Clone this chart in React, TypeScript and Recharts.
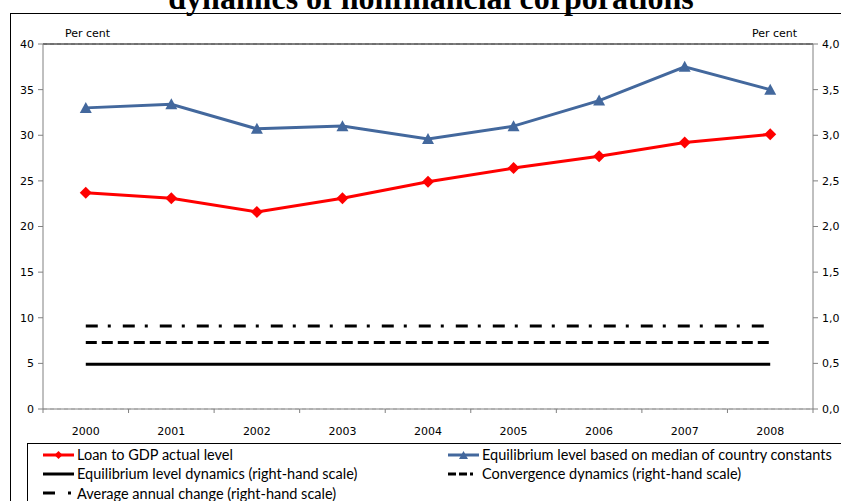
import { ComposedChart, Line, XAxis, YAxis, CartesianGrid, ReferenceLine } from "recharts";

const years = ["2000", "2001", "2002", "2003", "2004", "2005", "2006", "2007", "2008"];
const loanToGdp = [23.7, 23.1, 21.6, 23.1, 24.9, 26.4, 27.7, 29.2, 30.1];
const equilibriumMedian = [33.0, 33.4, 30.7, 31.0, 29.6, 31.0, 33.8, 37.5, 35.0];
const equilibriumDynamics = [0.49, 0.49, 0.49, 0.49, 0.49, 0.49, 0.49, 0.49, 0.49];
const convergenceDynamics = [0.73, 0.73, 0.73, 0.73, 0.73, 0.73, 0.73, 0.73, 0.73];
const averageAnnualChange = [0.91, 0.91, 0.91, 0.91, 0.91, 0.91, 0.91, 0.91, 0.91];
const leftTicks = [0, 5, 10, 15, 20, 25, 30, 35, 40];
const rightTicks = [0, 0.5, 1, 1.5, 2, 2.5, 3, 3.5, 4];

const data = years.map((year, i) => ({
  year,
  loan: loanToGdp[i],
  median: equilibriumMedian[i],
  dyn: equilibriumDynamics[i],
  conv: convergenceDynamics[i],
  avg: averageAnnualChange[i],
}));

const RED = "#ff0000";
const BLUE = "#43689d";
const BAND = 770 / 9;
const axisFont = { fontFamily: "DejaVu Sans", fontSize: 11, fill: "#000" };

const Diamond = ({ cx, cy }: any) =>
  cx == null ? null : <path d={`M${cx},${cy - 6}L${cx + 6},${cy}L${cx},${cy + 6}L${cx - 6},${cy}Z`} fill={RED} />;

const Triangle = ({ cx, cy }: any) =>
  cx == null ? null : <path d={`M${cx},${cy - 6}L${cx + 6},${cy + 5}L${cx - 6},${cy + 5}Z`} fill={BLUE} />;

const YearTick = ({ x, y, payload, index }: any) => (
  <g>
    <line x1={x - BAND / 2} y1={y - 8} x2={x - BAND / 2} y2={y - 4} stroke="#808080" />
    {index === years.length - 1 && (
      <line x1={x + BAND / 2} y1={y - 8} x2={x + BAND / 2} y2={y - 4} stroke="#808080" />
    )}
    <text x={x} y={y + 18} textAnchor="middle" {...axisFont}>
      {payload.value}
    </text>
  </g>
);

function LegendIcon({ kind }: { kind: string }) {
  return (
    <svg width={31} height={10} style={{ marginRight: 3, flex: "none" }}>
      {kind === "loan" && (
        <>
          <line x1={0} y1={5} x2={31} y2={5} stroke={RED} strokeWidth={3} />
          <path d="M15.5,1L19.5,5L15.5,9L11.5,5Z" fill={RED} />
        </>
      )}
      {kind === "median" && (
        <>
          <line x1={0} y1={5} x2={31} y2={5} stroke={BLUE} strokeWidth={3} />
          <path d="M15.5,1L20,9L11,9Z" fill={BLUE} />
        </>
      )}
      {kind === "dyn" && <line x1={0} y1={5} x2={31} y2={5} stroke="#000" strokeWidth={3} />}
      {kind === "conv" && (
        <line x1={0} y1={5} x2={31} y2={5} stroke="#000" strokeWidth={3} strokeDasharray="8 3 8 3 3 6" />
      )}
      {kind === "avg" && <line x1={0} y1={5} x2={31} y2={5} stroke="#000" strokeWidth={3} strokeDasharray="12 13 3 10" />}
    </svg>
  );
}

const legendRows = [
  [
    { kind: "loan", label: "Loan to GDP actual level" },
    { kind: "median", label: "Equilibrium level based on median of country constants" },
  ],
  [
    { kind: "dyn", label: "Equilibrium level dynamics (right-hand scale)" },
    { kind: "conv", label: "Convergence dynamics (right-hand scale)" },
  ],
  [{ kind: "avg", label: "Average annual change (right-hand scale)" }],
];

function ChartLegend() {
  return (
    <div
      style={{
        position: "absolute",
        left: 27,
        top: 443,
        width: 830,
        height: 70,
        border: "1px solid #000",
        boxSizing: "border-box",
        padding: "1px 0 0 15px",
        fontFamily: "Lato",
        fontSize: 14.5,
        color: "#000",
      }}
    >
      {legendRows.map((row, r) => (
        <div key={r} style={{ display: "flex", height: 19.3, alignItems: "center" }}>
          {row.map((item) => (
            <div key={item.kind} style={{ display: "flex", alignItems: "center", width: 405, whiteSpace: "nowrap" }}>
              <LegendIcon kind={item.kind} />
              {item.label}
            </div>
          ))}
        </div>
      ))}
    </div>
  );
}

export default function App() {
  return (
    <div style={{ position: "fixed", left: 0, top: 0, width: 841, height: 501, overflow: "hidden", background: "#fff" }}>
      <div
        style={{
          position: "absolute",
          top: -18,
          left: 0,
          width: 862,
          textAlign: "center",
          fontFamily: "Liberation Serif",
          fontWeight: "bold",
          fontSize: 32,
          lineHeight: "32px",
        }}
      >
        dynamics of nonfinancial corporations
      </div>
      <div style={{ position: "absolute", left: 10, top: 13, width: 900, height: 600, border: "1px solid #000" }} />
      <span style={{ position: "absolute", left: 65, top: 27, fontFamily: "DejaVu Sans", fontSize: 11 }}>Per cent</span>
      <span style={{ position: "absolute", left: 752, top: 27, fontFamily: "DejaVu Sans", fontSize: 11 }}>Per cent</span>
      <div style={{ position: "absolute", left: 0, top: 0 }}>
        <ComposedChart width={841} height={501} data={data} margin={{ top: 44, right: 0, bottom: 62, left: 0 }}>
          <CartesianGrid vertical={false} stroke="#c0c0c0" strokeDasharray="4 3" />
          <XAxis
            dataKey="year"
            stroke="#808080"
            tickLine={false}
            tick={<YearTick />}
            height={30}
            interval={0}
            padding={{ left: BAND / 2, right: BAND / 2 }}
          />
          <YAxis
            yAxisId="left"
            domain={[0, 40]}
            ticks={leftTicks}
            width={43}
            stroke="#808080"
            tickSize={5}
            tickMargin={4}
            tick={axisFont}
          />
          <YAxis
            yAxisId="right"
            orientation="right"
            domain={[0, 4]}
            ticks={rightTicks}
            width={28}
            stroke="#808080"
            tickSize={5}
            tickMargin={4}
            tick={axisFont}
            tickFormatter={(v: number) => v.toFixed(1).replace(".", ",")}
          />
          <ReferenceLine yAxisId="left" y={40} stroke="#000" />
          <Line
            yAxisId="right"
            dataKey="dyn"
            stroke="#000"
            strokeWidth={3}
            dot={false}
            isAnimationActive={false}
          />
          <Line
            yAxisId="right"
            dataKey="conv"
            stroke="#000"
            strokeWidth={3}
            strokeDasharray="11 5"
            dot={false}
            isAnimationActive={false}
          />
          <Line
            yAxisId="right"
            dataKey="avg"
            stroke="#000"
            strokeWidth={3}
            strokeDasharray="12 10 3 12"
            dot={false}
            isAnimationActive={false}
          />
          <Line
            yAxisId="left"
            dataKey="loan"
            stroke={RED}
            strokeWidth={3}
            dot={<Diamond />}
            isAnimationActive={false}
          />
          <Line
            yAxisId="left"
            dataKey="median"
            stroke={BLUE}
            strokeWidth={3}
            dot={<Triangle />}
            isAnimationActive={false}
          />
        </ComposedChart>
      </div>
      <ChartLegend />
    </div>
  );
}
